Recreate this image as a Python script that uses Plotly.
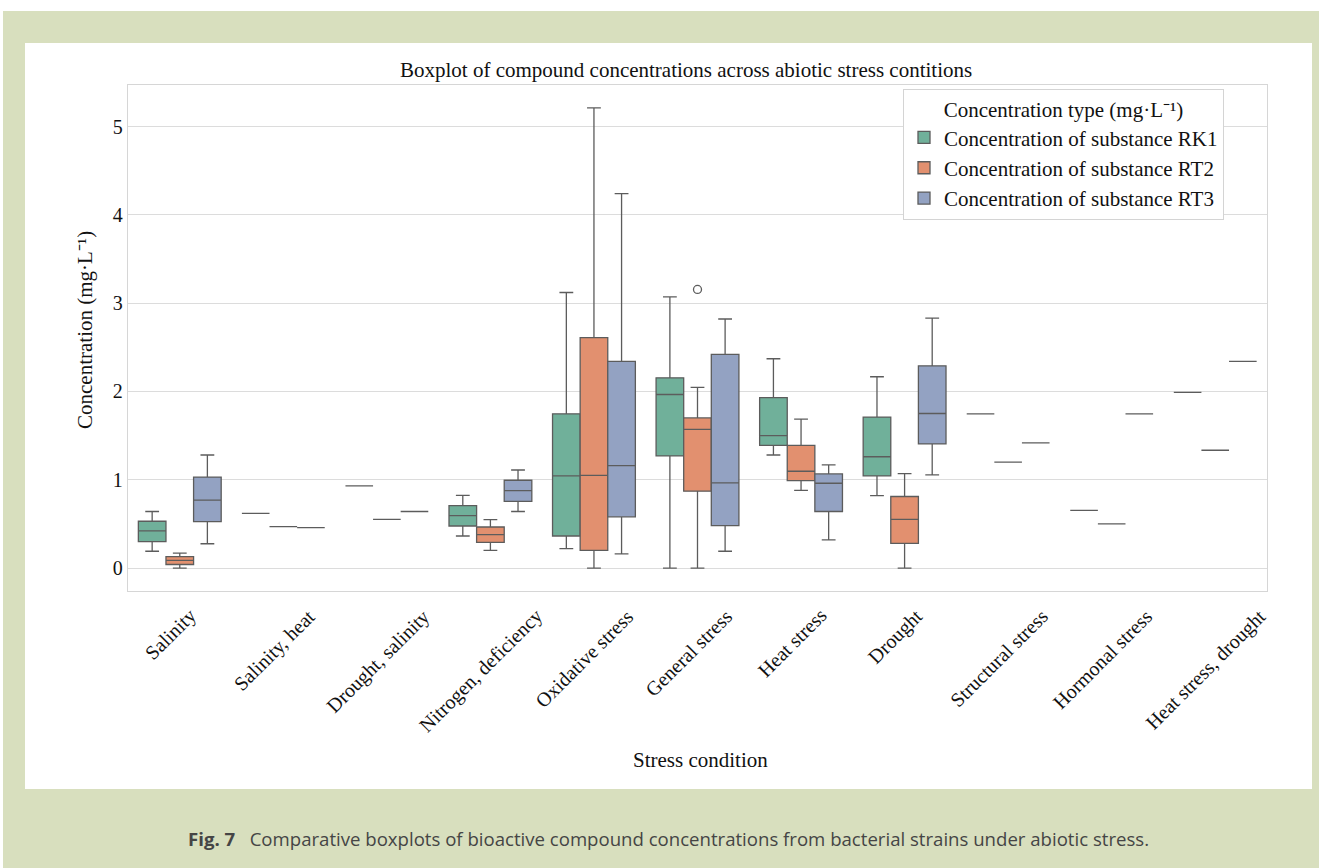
import plotly.graph_objects as go

categories = ["Salinity", "Salinity, heat", "Drought, salinity", "Nitrogen, deficiency",
              "Oxidative stress", "General stress", "Heat stress", "Drought",
              "Structural stress", "Hormonal stress", "Heat stress, drought"]

series_names = ["Concentration of substance RK1", "Concentration of substance RT2",
                "Concentration of substance RT3"]

rk1_low = [0.19, 0.62, 0.93, 0.363, 0.22, 0.0, 1.28, 0.82, 1.746, 0.654, 1.99]
rk1_q1 = [0.30, 0.62, 0.93, 0.476, 0.363, 1.27, 1.39, 1.043, 1.746, 0.654, 1.99]
rk1_med = [0.42, 0.62, 0.93, 0.593, 1.043, 1.965, 1.50, 1.26, 1.746, 0.654, 1.99]
rk1_q3 = [0.53, 0.62, 0.93, 0.706, 1.746, 2.154, 1.93, 1.71, 1.746, 0.654, 1.99]
rk1_up = [0.64, 0.62, 0.93, 0.824, 3.12, 3.07, 2.37, 2.166, 1.746, 0.654, 1.99]

rt2_low = [0.0, 0.47, 0.55, 0.20, 0.0, 0.0, 0.88, 0.0, 1.20, 0.50, 1.334]
rt2_q1 = [0.04, 0.47, 0.55, 0.29, 0.20, 0.87, 0.99, 0.28, 1.20, 0.50, 1.334]
rt2_med = [0.087, 0.47, 0.55, 0.378, 1.05, 1.57, 1.096, 0.55, 1.20, 0.50, 1.334]
rt2_q3 = [0.13, 0.47, 0.55, 0.465, 2.61, 1.70, 1.39, 0.81, 1.20, 0.50, 1.334]
rt2_up = [0.17, 0.47, 0.55, 0.548, 5.21, 2.045, 1.686, 1.07, 1.20, 0.50, 1.334]

rt3_low = [0.275, 0.457, 0.64, 0.64, 0.16, 0.19, 0.32, 1.054, 1.417, 1.746, 2.34]
rt3_q1 = [0.525, 0.457, 0.64, 0.756, 0.58, 0.48, 0.64, 1.405, 1.417, 1.746, 2.34]
rt3_med = [0.77, 0.457, 0.64, 0.876, 1.16, 0.964, 0.96, 1.75, 1.417, 1.746, 2.34]
rt3_q3 = [1.03, 0.457, 0.64, 0.994, 2.34, 2.42, 1.066, 2.29, 1.417, 1.746, 2.34]
rt3_up = [1.28, 0.457, 0.64, 1.11, 4.24, 2.82, 1.168, 2.83, 1.417, 1.746, 2.34]

# outlier of RT2
outlier_category = ["General stress"]
outlier_value = [3.155]

colors = ["#70b09a", "#e2906f", "#93a2c2"]
line_gray = "#5c5c5c"
serif = "Liberation Serif, Times New Roman, serif"

stats = [
    (rk1_low, rk1_q1, rk1_med, rk1_q3, rk1_up),
    (rt2_low, rt2_q1, rt2_med, rt2_q3, rt2_up),
    (rt3_low, rt3_q1, rt3_med, rt3_q3, rt3_up),
]

fig = go.Figure()
for name, col, (lo, q1, md, q3, up) in zip(series_names, colors, stats):
    fig.add_trace(go.Box(
        name=name, x=categories, q1=q1, median=md, q3=q3,
        lowerfence=lo, upperfence=up, boxpoints=False,
        fillcolor=col, line=dict(color=line_gray, width=1.3),
        whiskerwidth=0.5, offsetgroup=name, alignmentgroup="all",
        legendgroup=name, hoverinfo="skip"))

# outlier point drawn in RT2's slot
fig.add_trace(go.Box(
    name=series_names[1], x=outlier_category, y=outlier_value,
    boxpoints="all", jitter=0, pointpos=0,
    fillcolor="rgba(0,0,0,0)", line=dict(color="rgba(0,0,0,0)", width=0),
    marker=dict(symbol="circle-open", color=line_gray, size=8,
                line=dict(color=line_gray, width=1.3)),
    offsetgroup=series_names[1], alignmentgroup="all",
    legendgroup=series_names[1], showlegend=False, hoverinfo="skip"))

# plot area in pixels
W, H = 1319, 868
L, R, T, B = 128, 1267, 85, 591
def px(x):
    return (x - L) / (R - L)
def py(y):
    return (B - y) / (B - T)

shapes = [
    dict(type="rect", xref="paper", yref="paper", x0=px(0), x1=px(W), y0=py(11), y1=py(0),
         fillcolor="white", line=dict(width=0), layer="below"),
    dict(type="rect", xref="paper", yref="paper", x0=px(0), x1=px(3), y0=py(H), y1=py(0),
         fillcolor="white", line=dict(width=0), layer="below"),
    dict(type="rect", xref="paper", yref="paper", x0=px(25), x1=px(1312), y0=py(789), y1=py(43),
         fillcolor="white", line=dict(width=0), layer="below"),
]

annotations = []
for c in categories:
    annotations.append(dict(x=c, xref="x", y=py(602), yref="paper", text=c, xshift=-9,
                            textangle=-45, xanchor="center", yanchor="top",
                            showarrow=False, font=dict(family=serif, size=20, color="#111")))
annotations += [
    dict(x=px(686), y=py(70), xref="paper", yref="paper", showarrow=False,
         text="Boxplot of compound concentrations across abiotic stress contitions",
         font=dict(family=serif, size=21, color="#111"), xanchor="center", yanchor="middle"),
    dict(x=px(700), y=py(760), xref="paper", yref="paper", showarrow=False,
         text="Stress condition", font=dict(family=serif, size=21, color="#111"),
         xanchor="center", yanchor="middle"),
    dict(x=px(85), y=py(330), xref="paper", yref="paper", showarrow=False, textangle=-90,
         text="Concentration (mg·L⁻¹)", font=dict(family=serif, size=21, color="#111"),
         xanchor="center", yanchor="middle"),
    dict(x=px(668), y=py(838), xref="paper", yref="paper", showarrow=False,
         text="<b>Fig. 7</b>   Comparative boxplots of bioactive compound concentrations from bacterial strains under abiotic stress.",
         font=dict(family="Open Sans, sans-serif", size=18.6, color="#454545"),
         xanchor="center", yanchor="middle"),
]

fig.update_layout(
    width=W, height=H,
    margin=dict(l=L, r=W - R, t=T, b=H - B, pad=0),
    paper_bgcolor="#d8dfbe", plot_bgcolor="white",
    boxmode="group", boxgap=0.2, boxgroupgap=0,
    shapes=shapes, annotations=annotations,
    showlegend=True,
    legend=dict(
        x=px(1224), y=py(89), xanchor="right", yanchor="top",
        bgcolor="white", bordercolor="#d4d4d4", borderwidth=1,
        tracegroupgap=0,
        font=dict(family=serif, size=21, color="#111"),
        title=dict(text="Concentration type (mg·L⁻¹)", side="top center",
                   font=dict(family=serif, size=21, color="#111")),
    ),
    xaxis=dict(type="category", categoryorder="array", categoryarray=categories,
               range=[-0.5, 10.5], showticklabels=False, ticks="",
               showgrid=False, zeroline=False,
               showline=True, mirror=True, linecolor="#d6d6d6", linewidth=1.3),
    yaxis=dict(range=[-0.26, 5.47], tickvals=[0, 1, 2, 3, 4, 5], ticks="",
               showgrid=True, gridcolor="#dcdcdc", gridwidth=1.2, zeroline=False,
               showline=True, mirror=True, linecolor="#d6d6d6", linewidth=1.3,
               tickfont=dict(family=serif, size=20, color="#111")),
)

fig.write_html("out.html", config={"displayModeBar": False},
               post_script="document.body.style.margin='0';")
